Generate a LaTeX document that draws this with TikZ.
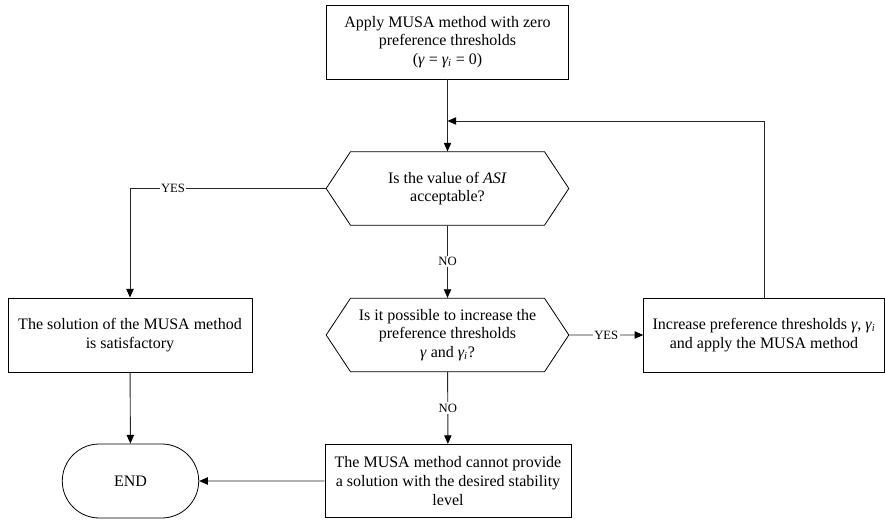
\documentclass[tikz,border=0pt]{standalone}
\usepackage{fontspec}
\setmainfont{Liberation Serif}
\usepackage{tikz}
\usetikzlibrary{arrows.meta, positioning, shapes.misc, shapes.symbols}
\newcommand{\gam}{\textit{γ}}
\newcommand{\gami}{\textit{γ\textsubscript{i}}}

\begin{document}
\begin{tikzpicture}[x=0.75pt, y=-0.75pt, >={Triangle[length=6.5pt,width=5.5pt,black]},
    font=\fontsize{12}{14}\selectfont,
    procbox/.style={rectangle, draw, line width=0.6pt, align=center, minimum height=55.5pt},
    testhex/.style={signal, signal to=west and east, signal pointer angle=113,
      draw, line width=0.6pt, align=center, minimum width=182pt, minimum height=55pt, inner xsep=2pt},
    termnode/.style={rounded rectangle, draw, line width=0.6pt, minimum width=109pt, minimum height=55.5pt},
    flow/.style={->, line width=0.7pt, draw=black!85},
    lbl/.style={fill=white, text=black, inner sep=1pt, font=\fontsize{9.5}{11}\selectfont}]
  \useasboundingbox (0,0) rectangle (885,520);

  % Start and the first test
  \node[procbox, minimum width=182pt] (start) at (447.5,42)
    {Apply MUSA method with zero\\preference thresholds\\(\gam{} = \gami{} = 0)};
  \node[testhex] (asi) at (447.5,188.5) {Is the value of \textit{ASI}\\acceptable?};
  \node[procbox, minimum width=183pt] (good) at (130,335)
    {The solution of the MUSA method\\is satisfactory};
  \node[termnode] (stop) at (130.5,481) {END};

  % Second test and its two outcomes
  \node[testhex] (raise) at (447.5,335)
    {Is it possible to increase the\\preference thresholds\\\gam{} and \gami?};
  \node[procbox, minimum width=180.5pt] (incr) at (764,335)
    {Increase preference thresholds \gam, \gami\\and apply the MUSA method};
  \node[procbox, minimum width=184.5pt, minimum height=55pt] (fail) at (448,481)
    {The MUSA method cannot provide\\a solution with the desired stability\\level};
  \coordinate (join) at (447.5,121);

  \draw[flow] (start) -- (asi);
  \draw[flow] (asi.west) -| node[lbl, pos=0.39] {YES} (good.north);
  \draw[flow] (asi) -- node[lbl] {NO} (raise);
  \draw[flow] (raise) -- node[lbl] {YES} (incr);
  \draw[flow] (raise) -- node[lbl] {NO} (fail);
  \draw[flow] (incr.north) |- (join);
  \draw[flow] (good) -- (stop);
  \draw[flow] (fail) -- (stop);
\end{tikzpicture}
\end{document}
